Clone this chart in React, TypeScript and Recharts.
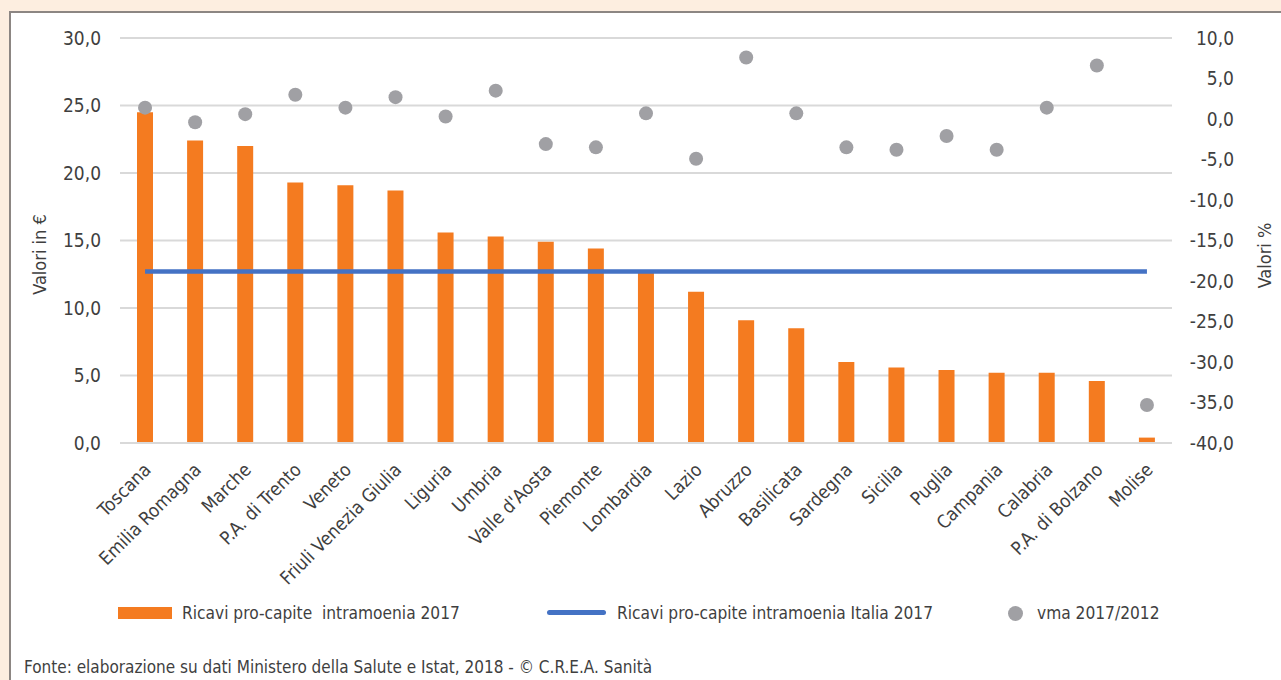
import React from 'react'
import {
  ComposedChart,
  Bar,
  Line,
  Scatter,
  XAxis,
  YAxis,
  CartesianGrid,
} from 'recharts'

const FONT = '"Liberation Sans Narrow", "Arial Narrow", "DejaVu Sans Condensed", sans-serif'
const TEXT = '#3f3f3f'

const REGIONI = [
  'Toscana', 'Emilia Romagna', 'Marche', 'P.A. di Trento', 'Veneto', 'Friuli Venezia Giulia',
  'Liguria', 'Umbria', "Valle d'Aosta", 'Piemonte', 'Lombardia', 'Lazio', 'Abruzzo',
  'Basilicata', 'Sardegna', 'Sicilia', 'Puglia', 'Campania', 'Calabria', 'P.A. di Bolzano', 'Molise',
]

// ricavi pro-capite intramoenia 2017 (€)
const RICAVI_2017 = [
  24.5, 22.4, 22.0, 19.3, 19.1, 18.7, 15.6, 15.3, 14.9, 14.4, 12.8,
  11.2, 9.1, 8.5, 6.0, 5.6, 5.4, 5.2, 5.2, 4.6, 0.4,
]

// media Italia 2017 (€)
const ITALIA_2017 = 12.7

// vma 2017/2012 (%)
const VMA = [
  1.4, -0.4, 0.6, 3.0, 1.4, 2.7, 0.3, 3.5, -3.1, -3.5, 0.7,
  -4.9, 7.6, 0.7, -3.5, -3.8, -2.1, -3.8, 1.4, 6.6, -35.3,
]

const TICKS_EURO = [0, 5, 10, 15, 20, 25, 30]
const TICKS_PERC = [-40, -35, -30, -25, -20, -15, -10, -5, 0, 5, 10]

const data = REGIONI.map((name, i) => ({
  name,
  ricavi: RICAVI_2017[i],
  italia: ITALIA_2017,
  vma: VMA[i],
}))

const fmt = (v: number) => v.toFixed(1).replace('.', ',')

const XTick = ({ x, y, payload }: any) => (
  <g transform={`translate(${x + 7},${y + 20})`}>
    <text textAnchor="end" transform="rotate(-45)" fontSize={18.5} fill={TEXT} fontFamily={FONT}>
      {payload.value}
    </text>
  </g>
)

const RightTick = ({ x, y, payload }: any) => (
  <text x={x + 54} y={y} dy="0.35em" textAnchor="end" fontSize={19} fill={TEXT} fontFamily={FONT}>
    {fmt(payload.value)}
  </text>
)

const Dot = (props: any) => <circle cx={props.cx} cy={props.cy} r={7} fill="#a0a0a4" />

export default function App() {
  return (
    <div style={{ position: 'absolute', left: 0, top: 0, width: 1281, height: 680, overflow: 'hidden', background: '#fdeee0', fontFamily: FONT }}>
      <div
        style={{
          position: 'absolute', left: 9, top: 11, right: -10, bottom: -10,
          background: '#fff', borderTop: '2px solid #8c8683', borderLeft: '2px solid #8c8683',
        }}
      />
      <div style={{ position: 'absolute', left: 0, top: 0 }}>
        <ComposedChart width={1281} height={600} data={data} margin={{ top: 38, right: 0, left: 0, bottom: 0 }}>
          <CartesianGrid yAxisId="left" vertical={false} stroke="#d9d9d9" strokeWidth={2} />
          <XAxis
            dataKey="name"
            interval={0}
            height={157}
            tickLine={false}
            axisLine={{ stroke: '#d9d9d9', strokeWidth: 2 }}
            tick={<XTick />}
          />
          <YAxis
            yAxisId="left"
            width={120}
            domain={[0, 30]}
            ticks={TICKS_EURO}
            tickFormatter={fmt}
            axisLine={false}
            tickLine={false}
            tickMargin={13}
            tick={{ fontSize: 19, fill: TEXT, fontFamily: FONT }}
            label={{ value: 'Valori in €', angle: -90, position: 'center', dx: -20, dy: 14, fontSize: 18, fill: TEXT, fontFamily: FONT }}
          />
          <YAxis
            yAxisId="right"
            orientation="right"
            width={109}
            domain={[-40, 10]}
            ticks={TICKS_PERC}
            axisLine={false}
            tickLine={false}
            tick={<RightTick />}
            label={{ value: 'Valori %', angle: -90, position: 'center', dx: 38, dy: 15, fontSize: 18, fill: TEXT, fontFamily: FONT }}
          />
          <Bar yAxisId="left" dataKey="ricavi" fill="#f47b20" barSize={16} isAnimationActive={false} />
          <Line
            yAxisId="left"
            dataKey="italia"
            stroke="#4472c4"
            strokeWidth={4.5}
            dot={false}
            activeDot={false}
            isAnimationActive={false}
          />
          <Scatter yAxisId="right" dataKey="vma" shape={<Dot />} isAnimationActive={false} />
        </ComposedChart>
      </div>

      {/* legenda */}
      <div style={{ position: 'absolute', top: 600, left: 0, width: 1281, height: 26, fontSize: 17.2, color: TEXT }}>
        <div style={{ position: 'absolute', left: 118, top: 7, width: 54, height: 12, background: '#f47b20' }} />
        <div style={{ position: 'absolute', left: 182, top: 1, whiteSpace: 'pre', lineHeight: '24px' }}>
          Ricavi pro-capite  intramoenia 2017
        </div>
        <div style={{ position: 'absolute', left: 547, top: 10, width: 59, height: 5, borderRadius: 3, background: '#4472c4' }} />
        <div style={{ position: 'absolute', left: 617, top: 1, whiteSpace: 'pre', lineHeight: '24px' }}>
          Ricavi pro-capite intramoenia Italia 2017
        </div>
        <div style={{ position: 'absolute', left: 1008, top: 5.5, width: 15, height: 15, borderRadius: '50%', background: '#a0a0a4' }} />
        <div style={{ position: 'absolute', left: 1037, top: 1, whiteSpace: 'pre', lineHeight: '24px' }}>
          vma 2017/2012
        </div>
      </div>

      <div style={{ position: 'absolute', left: 24, top: 655, fontSize: 17, lineHeight: '24px', color: TEXT, whiteSpace: 'pre' }}>
        Fonte: elaborazione su dati Ministero della Salute e Istat, 2018 - © C.R.E.A. Sanità
      </div>
    </div>
  )
}
